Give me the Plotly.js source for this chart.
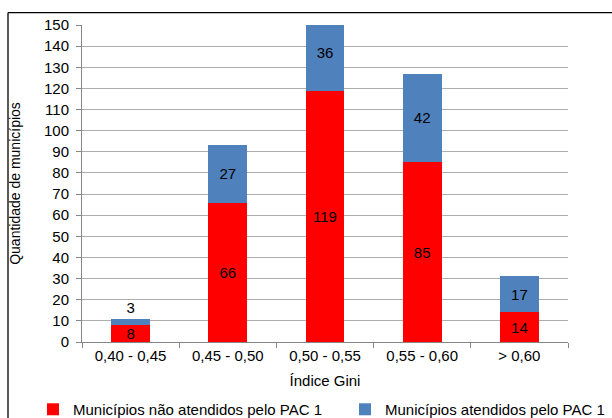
<!DOCTYPE html>
<html><head><meta charset="utf-8">
<script src="https://cdn.plot.ly/plotly-3.0.1.min.js"></script>
<style>html,body{margin:0;padding:0;background:#fff;}#chart{width:612px;height:418px;}</style>
</head><body><div id="chart"></div>
<script>
var categories = ['0,40 - 0,45', '0,45 - 0,50', '0,50 - 0,55', '0,55 - 0,60', '> 0,60'];
var naoAtendidos = [8, 66, 119, 85, 14];
var atendidos = [3, 27, 36, 42, 17];
var yTicks = [0,10,20,30,40,50,60,70,80,90,100,110,120,130,140,150];

var W = 612, H = 418;
var m = {l: 82, r: 44, t: 24.5, b: 75.7, autoexpand: false};
var pw = W - m.l - m.r, ph = H - m.t - m.b;
function px(x){ return (x - m.l) / pw; }
function py(y){ return (H - m.b - y) / ph; }

var font = 'Liberation Sans, Arial, sans-serif';
var tf = {color:'#000', size:15, family:font};
var traces = [
  {type:'bar', x:categories, y:naoAtendidos, name:'Municípios não atendidos pelo PAC 1',
   marker:{color:'#FF0000'}, text:naoAtendidos.map(String), textposition:'inside', textangle:0,
   insidetextanchor:'middle', textfont:tf, insidetextfont:tf, constraintext:'none', cliponaxis:true,
   legend:'legend'},
  {type:'bar', x:categories, y:atendidos, name:'Municípios atendidos pelo PAC 1',
   marker:{color:'#4F81BD'}, text:atendidos.map(String), textangle:0,
   textposition:['outside','inside','inside','inside','inside'],
   insidetextanchor:'middle', textfont:tf, insidetextfont:tf,
   outsidetextfont:tf, constraintext:'none', cliponaxis:true, legend:'legend2'}
];
var legendBase = {orientation:'h', yanchor:'middle', font:{size:15, family:font, color:'#000'},
  bgcolor:'rgba(0,0,0,0)', itemwidth:30};
var layout = {
  width: W, height: H, barmode:'stack', bargap:0.6,
  margin: m, paper_bgcolor:'#fff', plot_bgcolor:'#fff',
  font:{family:font, size:15, color:'#000'},
  showlegend:true,
  legend:Object.assign({x:px(33), y:py(410), xanchor:'left'}, legendBase),
  legend2:Object.assign({x:px(345), y:py(410), xanchor:'left'}, legendBase),
  xaxis:{type:'category', tickson:'boundaries', ticks:'outside', ticklen:5, tickcolor:'#868686',
    showline:true, linecolor:'#868686', linewidth:1, showgrid:false,
    tickfont:{size:15, family:font},
    title:{text:'Índice Gini', font:{size:15, family:font}, standoff:12}},
  yaxis:{range:[0,150], tickvals:yTicks, ticks:'outside', ticklen:5, tickcolor:'#868686',
    showline:true, linecolor:'#868686', linewidth:1, showgrid:true, gridcolor:'#ADADAD', gridwidth:1,
    zeroline:false, tickfont:{size:15, family:font}, ticklabelstandoff:4,
    title:{text:'Quantidade de municípios', font:{size:14, family:font}, standoff:20}},
  shapes:[
    {type:'line', xref:'paper', yref:'paper', x0:px(8), x1:px(620), y0:py(12), y1:py(12), line:{color:'#000', width:1.3}},
    {type:'line', xref:'paper', yref:'paper', x0:px(8), x1:px(8), y0:py(12), y1:py(430), line:{color:'#000', width:1.3}}
  ]
};
Plotly.newPlot('chart', traces, layout, {displayModeBar:false, staticPlot:true});
</script></body></html>
